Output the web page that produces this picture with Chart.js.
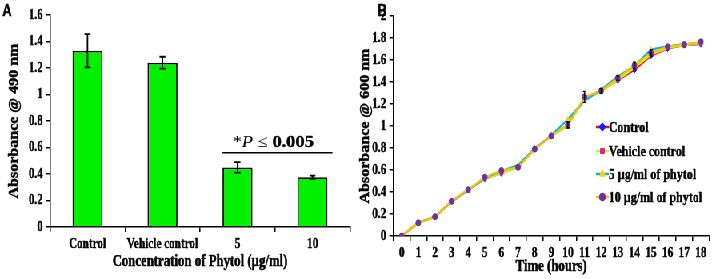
<!DOCTYPE html>
<html><head><meta charset="utf-8">
<script src="https://cdn.jsdelivr.net/npm/chart.js@4/dist/chart.umd.min.js"></script>
<style>
html,body{margin:0;padding:0;background:#fff;width:716px;height:279px;overflow:hidden;}
#stage{position:absolute;left:0;top:0;width:895px;height:279px;transform:scaleX(0.8);transform-origin:0 0;}
#ca{position:absolute;left:0;top:0;}
#cb{position:absolute;left:437.5px;top:0;}
</style></head><body>
<div id="stage">
<canvas id="ca" width="450" height="279"></canvas>
<canvas id="cb" width="457" height="279"></canvas>
</div>
<script>
// ---- Panel A data ----
const categories = ['Control', 'Vehicle control', '5', '10'];
const barMeans = [1.33, 1.24, 0.45, 0.375];
const barErrors = [0.125, 0.045, 0.04, 0.012];
const sigLevel = 0.56;
const sigText = ['*', 'P', ' \u2264 ', '0.005'];
const titlesA = { x: 'Concentration of Phytol (\u00b5g/ml)', y: 'Absorbance @ 490 nm' };

// ---- Panel B data ----
const hours = ['0','1','2','3','4','5','6','7','8','9','10','11','12','13','14','15','16','17','18'];
const control  = [0, 0.12, 0.175, 0.315, 0.42, 0.52, 0.57, 0.63, 0.79, 0.91, 1.01, 1.25, 1.32, 1.415, 1.51, 1.64, 1.705, 1.735, 1.745];
const vehicle  = [0, 0.12, 0.17, 0.315, 0.42, 0.52, 0.57, 0.62, 0.79, 0.91, 1.00, 1.25, 1.31, 1.42, 1.53, 1.65, 1.71, 1.735, 1.75];
const phytol5  = [0, 0.12, 0.175, 0.31, 0.415, 0.53, 0.59, 0.645, 0.795, 0.915, 1.06, 1.23, 1.33, 1.45, 1.545, 1.695, 1.725, 1.745, 1.755];
const phytol10 = [0, 0.12, 0.175, 0.315, 0.42, 0.535, 0.595, 0.625, 0.79, 0.91, 1.01, 1.265, 1.32, 1.435, 1.55, 1.665, 1.72, 1.74, 1.765];
const errB10   = [0, 0, 0, 0, 0, 0, 0, 0, 0, 0, 0.03, 0.05, 0.02, 0.02, 0.03, 0.03, 0, 0, 0];
const seriesLabels = ['Control', 'Vehicle control', '5 \u00b5g/ml of phytol', '10 \u00b5g/ml of phytol'];
const titlesB = { x: 'Time (hours)', y: 'Absorbance @ 600 nm' };

const SERIF = "'Liberation Serif', 'Times New Roman', serif";
const SANS = "'Liberation Sans', Arial, sans-serif";
const fmt = v => String(Number(v.toFixed(2)));

function heavyText(c, s, x, y, sw) {
  c.lineWidth = sw; c.strokeStyle = '#000'; c.lineJoin = 'round';
  c.strokeText(s, x, y); c.fillText(s, x, y);
}

function panelLabel(text, x, y) {
  return { id: 'pl' + text, afterDraw(chart) {
    const c = chart.ctx; c.save();
    c.font = 'bold 16px ' + SANS; c.fillStyle = '#000'; c.textBaseline = 'top';
    heavyText(c, text, x, y, 0.5); c.restore();
  }};
}

// axis titles: x title centred under chart area at yPos, y title rotated at xPos
function axisTitles(t, xTitleY, yTitleX) {
  return { id: 'titles', afterDraw(chart) {
    const c = chart.ctx, a = chart.chartArea; c.save();
    c.font = 'bold 16px ' + SERIF; c.fillStyle = '#000';
    c.textAlign = 'center'; c.textBaseline = 'middle';
    heavyText(c, t.x, (a.left + a.right) / 2, xTitleY, 0.5);
    c.translate(yTitleX, (a.top + a.bottom) / 2); c.rotate(-Math.PI / 2);
    heavyText(c, t.y, 0, 0, 0.5);
    c.restore();
  }};
}

const errA = { id: 'errA', afterDatasetsDraw(chart) {
  const c = chart.ctx, ys = chart.scales.y, meta = chart.getDatasetMeta(0);
  c.save(); c.strokeStyle = '#000'; c.lineWidth = 1.8;
  meta.data.forEach((bar, i) => {
    const t = ys.getPixelForValue(barMeans[i] + barErrors[i]);
    const b = ys.getPixelForValue(barMeans[i] - barErrors[i]);
    c.beginPath();
    c.moveTo(bar.x, t); c.lineTo(bar.x, b);
    c.moveTo(bar.x - 3.75, t); c.lineTo(bar.x + 3.75, t);
    c.moveTo(bar.x - 3.75, b); c.lineTo(bar.x + 3.75, b);
    c.stroke();
  });
  c.restore();
}};

const sigPlugin = { id: 'sig', afterDraw(chart) {
  const c = chart.ctx, xs = chart.scales.x, ys = chart.scales.y;
  const y = ys.getPixelForValue(sigLevel);
  const x1 = xs.getPixelForValue(2) - 18.75, x2 = xs.getPixelForValue(3) + 25;
  c.save(); c.strokeStyle = '#000'; c.lineWidth = 1.5;
  c.beginPath(); c.moveTo(x1, y); c.lineTo(x2, y); c.stroke();
  const fonts = ['17px ' + SERIF, 'italic 17px ' + SERIF, '17px ' + SERIF, 'bold 17px ' + SERIF];
  let total = 0;
  sigText.forEach((s, i) => { c.font = fonts[i]; total += c.measureText(s).width; });
  const target = (x2 - x1) * 0.74;
  c.translate(x1 + 12.5, y - 6);
  c.scale(target / total, 1);
  let x = 0;
  c.fillStyle = '#000'; c.textBaseline = 'alphabetic';
  sigText.forEach((s, i) => {
    c.font = fonts[i];
    if (i === 3) heavyText(c, s, x, 0, 0.4); else c.fillText(s, x, 0);
    x += c.measureText(s).width;
  });
  c.restore();
}};

const tickFont = { family: SERIF, weight: 'bold', size: 14 };

new Chart(document.getElementById('ca'), {
  type: 'bar',
  data: { labels: categories, datasets: [{
    data: barMeans, backgroundColor: '#00f000', borderColor: '#000', borderWidth: 1.8,
    barPercentage: 0.4, categoryPercentage: 1
  }]},
  options: {
    responsive: false, devicePixelRatio: 1, animation: false,
    layout: { padding: { top: 15, right: 12.5, left: 0, bottom: 0 } },
    plugins: { legend: { display: false }, tooltip: { enabled: false } },
    scales: {
      x: {
        grid: { display: true, drawOnChartArea: false, color: '#000', tickLength: 5, offset: true, lineWidth: 1.5 },
        border: { color: '#000', width: 1.5 },
        ticks: { color: '#000', font: tickFont, padding: 4, maxRotation: 0, autoSkip: false, textStrokeColor: '#000', textStrokeWidth: 0.4 },
        afterFit: s => { s.height = 52; }
      },
      y: {
        min: 0, max: 1.6,
        grid: { display: true, drawOnChartArea: false, color: '#000', tickLength: 5, lineWidth: 1.5 },
        border: { color: '#000', width: 1.5 },
        ticks: { stepSize: 0.2, color: '#000', font: tickFont, padding: 4, callback: fmt, textStrokeColor: '#000', textStrokeWidth: 0.4 },
        afterFit: s => { s.width = 62.5; }
      }
    }
  },
  plugins: [errA, sigPlugin, axisTitles(titlesA, 262, 18), panelLabel('A', 3, 4)]
});

const lineColors = ['#ff0000', '#b8ff2e', '#00b0f0', '#ffc000'];
const markColors = ['#1a1aff', '#ee1c8c', '#ffd000', '#7030a0'];
const markStyles = ['rectRot', 'rect', 'triangle', 'circle'];
const markRadius = [3, 2.5, 3, 3];
const seriesData = [control, vehicle, phytol5, phytol10];

const errB = { id: 'errB', afterDatasetsDraw(chart) {
  const c = chart.ctx, ys = chart.scales.y, meta = chart.getDatasetMeta(3);
  c.save(); c.strokeStyle = '#000'; c.lineWidth = 1.2;
  meta.data.forEach((pt, i) => {
    if (!errB10[i]) return;
    const t = ys.getPixelForValue(phytol10[i] + errB10[i]);
    const b = ys.getPixelForValue(phytol10[i] - errB10[i]);
    c.beginPath();
    c.moveTo(pt.x, t); c.lineTo(pt.x, b);
    c.moveTo(pt.x - 2, t); c.lineTo(pt.x + 2, t);
    c.moveTo(pt.x - 2, b); c.lineTo(pt.x + 2, b);
    c.stroke();
  });
  c.restore();
}};

const legendB = { id: 'legB', afterDraw(chart) {
  const c = chart.ctx; c.save();
  const x0 = 307, ys = [127, 151, 174, 197];
  seriesLabels.forEach((lab, i) => {
    const y = ys[i];
    c.strokeStyle = lineColors[i]; c.lineWidth = 2.5;
    c.beginPath(); c.moveTo(x0, y); c.lineTo(x0 + 16, y); c.stroke();
    c.fillStyle = markColors[i]; c.strokeStyle = markColors[i];
    Chart.helpers.drawPoint(c, { pointStyle: markStyles[i], radius: markRadius[i], borderWidth: 1 }, x0 + 8, y);
    c.fillStyle = '#000'; c.font = 'bold 15px ' + SERIF; c.textBaseline = 'middle';
    heavyText(c, lab, x0 + 16, y + 1, 0.4);
  });
  c.restore();
}};

new Chart(document.getElementById('cb'), {
  type: 'line',
  data: { labels: hours, datasets: seriesData.map((d, i) => ({
    label: seriesLabels[i], data: d, borderColor: lineColors[i], borderWidth: 2.2,
    pointStyle: markStyles[i], pointRadius: markRadius[i], pointBackgroundColor: markColors[i],
    pointBorderColor: markColors[i], pointBorderWidth: 1, tension: 0, order: 3 - i
  }))},
  options: {
    responsive: false, devicePixelRatio: 1, animation: false,
    layout: { padding: { top: 16, right: 8.5, left: 0, bottom: 0 } },
    plugins: { legend: { display: false }, tooltip: { enabled: false } },
    scales: {
      x: {
        offset: true,
        grid: { display: true, drawOnChartArea: false, color: '#000', tickLength: 5, offset: true, lineWidth: 1.5 },
        border: { color: '#000', width: 1.5 },
        ticks: { color: '#000', font: tickFont, padding: 4, maxRotation: 0, autoSkip: false, textStrokeColor: '#000', textStrokeWidth: 0.4 },
        afterFit: s => { s.height = 43; }
      },
      y: {
        min: 0, max: 2,
        grid: { display: true, drawOnChartArea: false, color: '#000', tickLength: 5, lineWidth: 1.5 },
        border: { color: '#000', width: 1.5 },
        ticks: { stepSize: 0.2, color: '#000', font: tickFont, padding: 4, callback: fmt, textStrokeColor: '#000', textStrokeWidth: 0.4 },
        afterFit: s => { s.width = 53.75; }
      }
    }
  },
  plugins: [errB, legendB, axisTitles(titlesB, 267, 19), panelLabel('B', 34, 4)]
});
</script>
</body></html>
